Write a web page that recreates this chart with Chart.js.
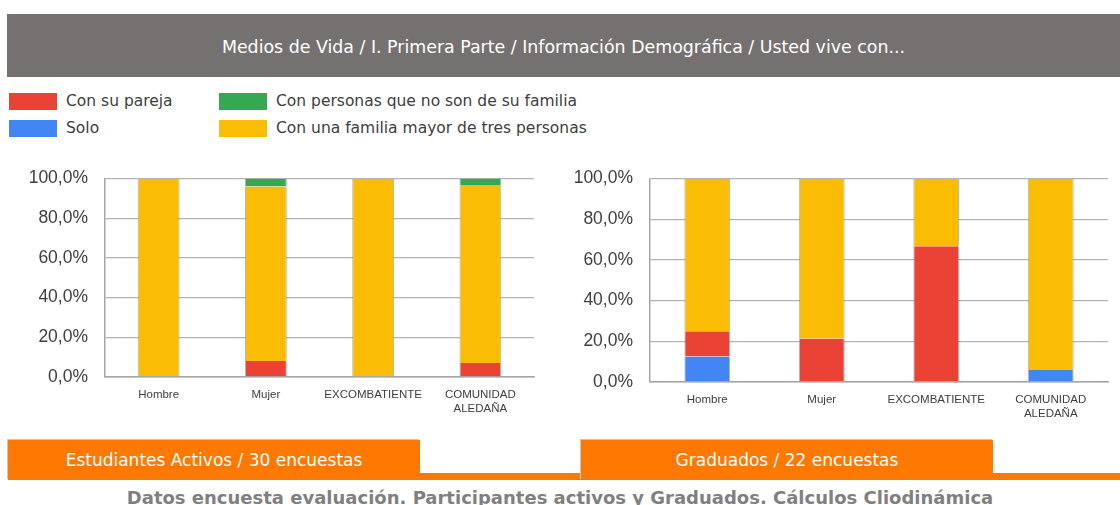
<!DOCTYPE html>
<html>
<head>
<meta charset="utf-8">
<script src="https://cdn.jsdelivr.net/npm/chart.js@4"></script>
<style>
  body { margin: 0; width: 1120px; height: 505px; overflow: hidden; background: #fff; font-family: "DejaVu Sans", sans-serif; position: relative; }
  .title { position: absolute; left: 7px; top: 14px; width: 1113px; height: 63px; background: #767171; color: #fff; font-size: 17.4px; line-height: 66px; text-align: center; }
  .legend { position: absolute; font-size: 15.5px; color: #404040; }
  .legend span { display: inline-block; width: 48px; height: 17px; vertical-align: middle; margin-right: 9px; }
  .wrap { position: absolute; }
  .strip { position: absolute; left: 8px; top: 473px; width: 1112px; height: 7px; background: #ff7800; }
  .tab { position: absolute; top: 440px; height: 40px; background: #ff7800; color: #fff; font-size: 17px; line-height: 40px; text-align: center; box-shadow: -1px -1px 0 #c8c8c8; }
  .foot { position: absolute; left: 0; width: 1120px; top: 487px; text-align: center; font-weight: bold; font-size: 18px; color: #808080; }
</style>
</head>
<body>
<div class="title">Medios de Vida / I. Primera Parte / Información Demográfica / Usted vive con...</div>
<div class="legend" style="left:9px;top:92px"><span style="background:#ea4335"></span>Con su pareja</div>
<div class="legend" style="left:9px;top:119px"><span style="background:#4285f4"></span>Solo</div>
<div class="legend" style="left:219px;top:92px"><span style="background:#34a853"></span>Con personas que no son de su familia</div>
<div class="legend" style="left:219px;top:119px"><span style="background:#fbbc04"></span>Con una familia mayor de tres personas</div>

<div class="wrap" style="left:0;top:151px;width:545px;height:267px"><canvas id="myChart1"></canvas></div>
<div class="wrap" style="left:545px;top:151px;width:575px;height:272px"><canvas id="myChart2"></canvas></div>

<div class="strip"></div>
<div class="tab" style="left:8px;width:412px">Estudiantes Activos / 30 encuestas</div>
<div class="tab" style="left:581px;width:412px">Graduados / 22 encuestas</div>
<div class="foot">Datos encuesta evaluación. Participantes activos y Graduados. Cálculos Cliodinámica</div>

<script>
const categories = ['Hombre', 'Mujer', 'EXCOMBATIENTE', ['COMUNIDAD', 'ALEDAÑA']];

// Estudiantes activos (%)
const activosSolo     = [0, 0, 0, 0];
const activosPareja   = [0, 8.0, 0, 7.1];
const activosFamilia  = [100, 88.0, 100, 89.3];
const activosNoFamilia = [0, 4.0, 0, 3.6];

// Graduados (%)
const gradSolo      = [12.5, 0, 0, 5.9];
const gradPareja    = [12.5, 21.4, 66.7, 0];
const gradFamilia   = [75.0, 78.6, 33.3, 94.1];
const gradNoFamilia = [0, 0, 0, 0];

const yTicks = [0, 20, 40, 60, 80, 100];

const colors = { solo: '#4285f4', pareja: '#ea4335', familia: '#fbbc04', noFamilia: '#34a853' };

function makeDatasets(solo, pareja, familia, noFamilia, barPct) {
  const base = { barPercentage: barPct, categoryPercentage: 1, borderColor: 'rgba(150,150,150,0.7)', borderWidth: { left: 1, right: 1, top: 0, bottom: 0 }, borderSkipped: false };
  return [
    Object.assign({ label: 'Solo', data: solo, backgroundColor: colors.solo }, base),
    Object.assign({ label: 'Con su pareja', data: pareja, backgroundColor: colors.pareja }, base),
    Object.assign({ label: 'Con una familia mayor de tres personas', data: familia, backgroundColor: colors.familia }, base),
    Object.assign({ label: 'Con personas que no son de su familia', data: noFamilia, backgroundColor: colors.noFamilia }, base)
  ];
}

function makeOptions(xHeight) {
  return {
    responsive: true,
    maintainAspectRatio: false,
    animation: false,
    layout: { padding: { top: 10, right: 11 } },
    plugins: { legend: { display: false }, tooltip: { enabled: false } },
    scales: {
      x: {
        stacked: true,
        grid: { display: false },
        border: { display: true, color: '#a6a6a6', width: 1.5 },
        ticks: { color: '#404040', font: { family: 'Liberation Sans', size: 11.5 }, padding: 3, maxRotation: 0, autoSkip: false },
        afterFit: function(s) { s.height = xHeight; }
      },
      y: {
        stacked: true,
        min: 0, max: 100,
        afterBuildTicks: function(s) { s.ticks = yTicks.map(v => ({ value: v })); },
        grid: { color: '#b4b4b4', lineWidth: 1.3, drawTicks: false },
        border: { display: true, color: '#a6a6a6', width: 1.5 },
        ticks: {
          color: '#404040', font: { family: 'Liberation Sans', size: 17.5 }, padding: 17,
          callback: v => v.toFixed(1).replace('.', ',') + '%'
        },
        afterFit: function(s) { s.width = 105; }
      }
    }
  };
}

const ctx1 = document.getElementById('myChart1').getContext('2d');
const ctx2 = document.getElementById('myChart2').getContext('2d');

const opts1 = makeOptions(41);
const myChart1 = new Chart(ctx1, {
  type: 'bar',
  data: { labels: categories, datasets: makeDatasets(activosSolo, activosPareja, activosFamilia, activosNoFamilia, 0.39) },
  options: opts1
});

const opts2 = makeOptions(41);
opts2.layout.padding.right = 12;
const myChart2 = new Chart(ctx2, {
  type: 'bar',
  data: { labels: categories, datasets: makeDatasets(gradSolo, gradPareja, gradFamilia, gradNoFamilia, 0.40) },
  options: opts2
});
</script>
</body>
</html>
